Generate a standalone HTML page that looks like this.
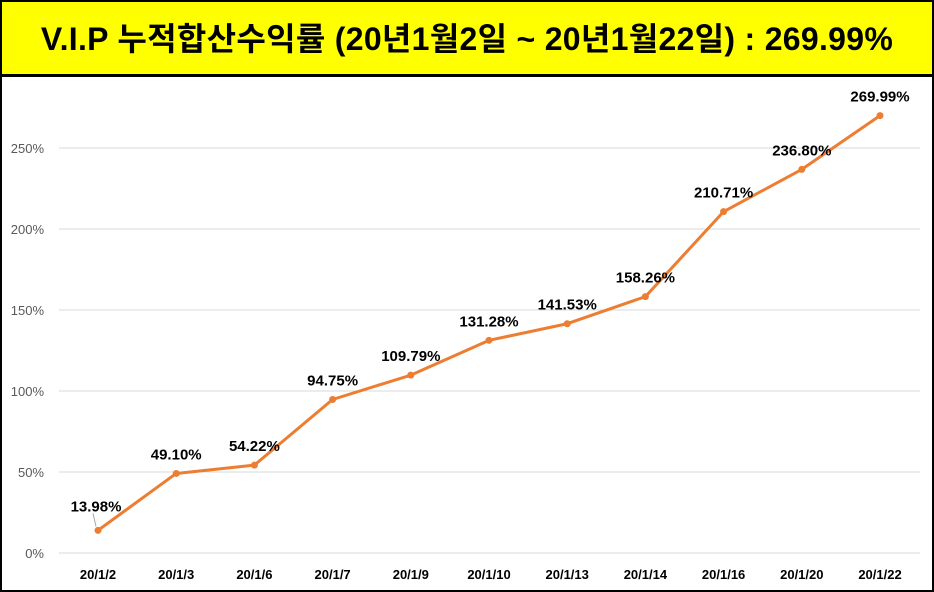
<!DOCTYPE html>
<html><head><meta charset="utf-8"><style>
html,body{margin:0;padding:0;background:#fff}
#wrap{position:relative;width:930px;height:588px;border:2px solid #000;overflow:hidden}
#title{position:absolute;left:0;top:0;width:930px;height:72px;background:#ffff00;border-bottom:3px solid #000;font:bold 32px "Liberation Sans","Noto Sans CJK KR",sans-serif;line-height:74px;text-align:center;color:#000;white-space:nowrap;letter-spacing:0.3px}
svg{position:absolute;left:0;top:0}
</style></head><body>
<div id="wrap">
<div id="title">V.I.P 누적합산수익률 (20년1월2일 ~ 20년1월22일) : 269.99%</div>
<svg id="chart" width="930" height="588"></svg>
</div>
<script>
const categories=["20/1/2","20/1/3","20/1/6","20/1/7","20/1/9","20/1/10","20/1/13","20/1/14","20/1/16","20/1/20","20/1/22"];
const values=[13.98,49.10,54.22,94.75,109.79,131.28,141.53,158.26,210.71,236.80,269.99];
const yTicks=[0,50,100,150,200,250];
const NS="http://www.w3.org/2000/svg";
const svg=document.getElementById('chart');
const ox=-2,oy=-2;
function xs(i){return 98+i*78.2+ox;}
function ys(v){return 553-v*1.62+oy;}
function mk(t,a){const e=document.createElementNS(NS,t);for(const k in a)e.setAttribute(k,a[k]);svg.appendChild(e);return e;}
yTicks.forEach(t=>{
 const l=mk('line',{x1:57,x2:918,y1:ys(t),y2:ys(t),stroke:'#d9d9d9','stroke-width':1});
 
 
 const tx=mk('text',{x:42,y:ys(t)+5,'text-anchor':'end','font-family':'Liberation Sans, sans-serif','font-size':13,fill:'#595959'});
 tx.textContent=t+'%';
 
 
});
categories.forEach((c,i)=>{
 const tx=mk('text',{x:xs(i),y:579+oy,'text-anchor':'middle','font-family':'Liberation Sans, sans-serif','font-size':13,'font-weight':'bold',fill:'#000'});
 tx.textContent=c;
 
 
});
const pts=values.map((v,i)=>xs(i)+','+ys(v)).join(' ');
const pl=mk('polyline',{points:pts,fill:'none',stroke:'#ed7d31','stroke-width':3,'stroke-linejoin':'round'});


values.forEach((v,i)=>{
 const c=mk('circle',{cx:xs(i),cy:ys(v),r:3.5,fill:'#ed7d31'});
 
 
 let lx=xs(i),ly=ys(v)-14;
 if(i===0){lx=xs(i)-2;ly=ys(v)-19;
  const ld=mk('line',{x1:xs(i)-2,y1:ys(v)-4,x2:xs(i)-5,y2:ys(v)-17,stroke:'#a6a6a6','stroke-width':1});
  
  }
 const t=mk('text',{x:lx,y:ly,'text-anchor':'middle','font-family':'Liberation Sans, sans-serif','font-size':15,'font-weight':'bold',fill:'#000'});
 t.textContent=v.toFixed(2)+'%';
 
 
});
</script>
</body></html>
